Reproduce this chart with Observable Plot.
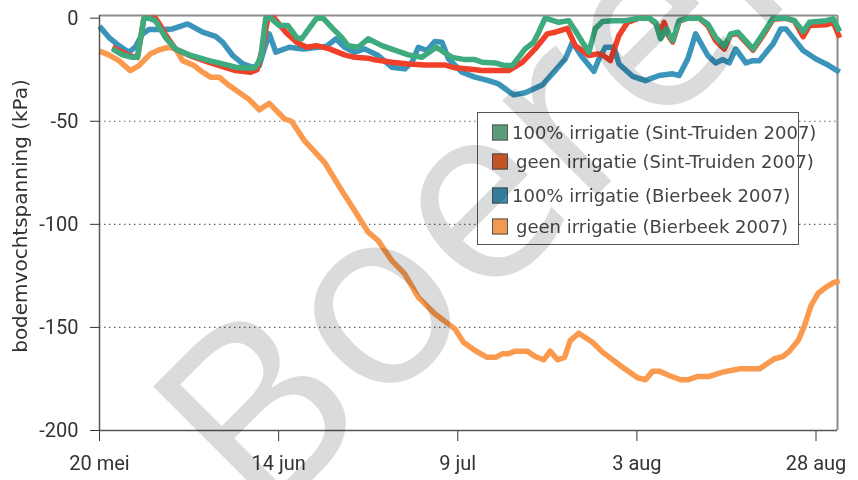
<!DOCTYPE html>
<html>
<head>
<meta charset="utf-8">
<script src="https://cdn.jsdelivr.net/npm/d3@7"></script>
<script src="https://cdn.jsdelivr.net/npm/@observablehq/plot@0.6"></script>
<style>
  body { margin: 0; background: #fff; }
  #wrap { position: relative; width: 858px; height: 480px; overflow: hidden;
          font-family: Roboto, "DejaVu Sans", sans-serif; }
  #chart svg { display: block; }
  .ylab { position: absolute; left: 20px; top: 216px; transform: translate(-50%, -50%) rotate(-90deg);
          white-space: nowrap; font-family: "DejaVu Sans", sans-serif; font-size: 20px; color: #333; }
  .legend { position: absolute; left: 477px; top: 112px; width: 322px; height: 133px;
            border: 1.5px solid #555; box-sizing: border-box; background: #fff; }
  .item { position: absolute; left: 14px; display: flex; align-items: center;
          font-family: "DejaVu Sans", sans-serif; font-size: 18px;
          color: #444; white-space: nowrap; transform: translateY(-50%); }
  .sw { width: 16px; height: 16px; border: 1.5px solid #555; box-sizing: border-box; margin-right: 4px; }
  .item.geen .sw { margin-right: 8px; }
  #wm { position: absolute; left: 0; top: 0; pointer-events: none; mix-blend-mode: multiply; }
</style>
</head>
<body>
<div id="wrap">
  <div id="chart"></div>
  <div class="ylab" id="ylab"></div>
  <div class="legend" id="legend"></div>
  <svg id="wm" width="858" height="480"></svg>
</div>
<script>
// ---------- data (day offsets from 20 May 2007, values in kPa) ----------
const startDate = [2007, 4, 20];
const endDayOffset = 103; // 31 aug

const seriesNames = [
  "geen irrigatie (Bierbeek 2007)",
  "100% irrigatie (Bierbeek 2007)",
  "geen irrigatie (Sint-Truiden 2007)",
  "100% irrigatie (Sint-Truiden 2007)"
];
const legendOrder = [
  "100% irrigatie (Sint-Truiden 2007)",
  "geen irrigatie (Sint-Truiden 2007)",
  "100% irrigatie (Bierbeek 2007)",
  "geen irrigatie (Bierbeek 2007)"
];
const lineColors = ["#f99a4e", "#3b94ba", "#f0402a", "#3dab7e"];
const swatchColors = {
  "100% irrigatie (Sint-Truiden 2007)": "#5c9c7c",
  "geen irrigatie (Sint-Truiden 2007)": "#e5602c",
  "100% irrigatie (Bierbeek 2007)": "#3b8fb3",
  "geen irrigatie (Bierbeek 2007)": "#f29a50"
};

const bbGeenDays = [0,1.3,2.7,4.3,5.5,7.1,8.3,9.7,10.6,11.6,13.2,14.4,15.5,16.7,18.1,20.9,22.3,23.7,25.8,26.8,28.6,31.4,33.8,35.6,37.5,38.9,40.8,42.6,44.5,46.8,49.6,50.8,52.4,54.1,55.3,56.2,57.1,58,59.7,60.8,62,62.9,63.9,64.9,65.7,66.9,68.8,70.2,73,75.1,76.2,77.2,78.1,79.5,81.1,82.1,83.5,85.1,87,88.1,89.3,92.1,94.2,95.4,96.3,97.5,98.4,99.3,100.3,101.4,102.4,103.3];
const bbGeenVals = [-16,-17.8,-20.6,-25.4,-23,-17.3,-15.4,-14.1,-14.9,-20.6,-23,-26.2,-28.6,-28.6,-32.7,-39.5,-44.5,-41.3,-48.8,-50,-59.4,-69.9,-83.6,-93.3,-103.8,-107.9,-117.6,-124,-135.4,-143.4,-150.7,-157.2,-161.2,-164.5,-164.5,-162.8,-162.8,-161.5,-161.5,-164.1,-165.7,-161.5,-165.7,-164.5,-156.4,-152.8,-157.2,-162,-169.3,-174.4,-175.4,-171.2,-171.2,-173.3,-175.4,-175.4,-173.8,-173.8,-171.7,-170.9,-170.1,-170.1,-165.2,-164.1,-161.5,-156.4,-149.1,-139.4,-133.4,-130.5,-128.4,-127.3];

const bb100Days = [0,1.3,2.7,4.1,5,6,6.9,8.8,10.2,12.3,14.4,16.2,17.2,18.6,20,21.4,22.3,23,23.7,24.6,26.5,28.4,31.7,33,34.2,35.6,37,38.9,40.8,42.6,43.6,44.5,45.7,46.8,47.8,48.7,50.6,52.4,54.3,55.7,57.8,59.4,61.8,63.6,65,66,67.4,69,69.7,70.6,71.8,72.5,74.4,76.2,78.1,80,80.9,82.1,83.2,84.9,86,87,87.9,88.8,90.2,91.2,92.1,94,95.1,95.8,98.2,100,101.4,103.3];
const bb100Vals = [-3.9,-9.3,-13.3,-16.5,-14,-7.6,-5.5,-5.5,-5.2,-2.8,-6.8,-8.8,-11.7,-18.1,-22.2,-23.8,-23,-14.9,-7.6,-16.5,-14.1,-14.9,-13.6,-10,-14.1,-16.5,-14.9,-18.1,-23.8,-24.6,-21.4,-14.1,-15.7,-11.3,-11.7,-19.7,-26.2,-28.6,-30.3,-31.9,-37.2,-36.2,-32.4,-25.4,-19.8,-11.7,-19,-25.8,-19.8,-14.1,-14.1,-22.2,-28.2,-30.3,-27.8,-27,-27.8,-19.8,-7.6,-18.1,-21.7,-20.1,-21.7,-14.9,-21.7,-20.6,-20.6,-12.5,-5.2,-5.2,-15.7,-19.8,-22.2,-26.2];

const stGeenDays = [1.8,4.1,5.3,6.2,7.8,8.4,9.2,10.6,12.5,15.3,17.2,19,21.1,22,22.7,23.5,24.4,26,27.5,28.9,30.3,32.1,34.2,35.6,37.5,38.4,40.8,43.1,45.4,48.2,49.6,51.5,53.4,57.1,59,60.8,62.5,63.6,65.3,66.4,68.3,69.5,70.2,71.3,72.5,73.7,75.3,76.7,77.6,78.3,78.8,79.5,80,80.9,82.1,83.7,84.9,86,87.2,88.1,89.1,91.2,92.6,94,95.8,97,98.2,99.1,101.4,102.4,103.3];
const stGeenVals = [-14.1,-18.1,-19,0,0,-3,-8,-14.9,-18,-21.4,-23.5,-25.4,-26.2,-25,-15,0,0,-6.8,-11.7,-14.1,-13.3,-14.9,-17.8,-19,-19.4,-20.2,-21.4,-22.2,-22.7,-22.7,-24.1,-24.6,-25.4,-25.4,-21.4,-14.9,-7.6,-6.8,-4.9,-13.3,-18.1,-17.3,-17.8,-20.6,-8.4,-2,0,0,-2.5,-6,-2,-9,-11.5,-1.5,0,0,-3.6,-11,-15,-8,-7.5,-15.5,-8.4,-0.5,0,-1.5,-9,-3.5,-3.2,-2,-9.5];

const st100Days = [1.8,3.2,4.6,5.3,6.2,6.9,7.8,9.2,10.6,12.5,15.3,17.2,19,20.9,21.8,22.5,23.2,23.9,25.1,26.3,27.5,28.2,30.3,31.2,32.6,33.8,34.7,36.1,37.5,39.4,43.1,45,47,49.2,51,52.4,53.4,55.2,56.6,57.6,58.5,59.4,60.6,61.3,62.2,64.1,65.5,66.4,67.4,68.3,69.2,70.2,71.6,73.4,75.3,76.7,77.6,78.3,79.1,80,80.9,82.1,83.7,84.9,86,87.2,88.1,89.1,91.2,92.6,94,95.8,97,98.2,99.1,101.4,102.4,103.3];
const st100Vals = [-14.9,-17.8,-19,-19,0,0,-1.2,-9.3,-14.9,-17.8,-20.6,-22.2,-23.8,-24.3,-23.8,-19,0,0,-3.6,-3.6,-9.3,-10,0,0,-5.2,-9.3,-13.3,-14.1,-10,-13.3,-17.8,-19,-14.1,-19,-20.1,-20.1,-21.4,-21.7,-23,-23,-19,-14.9,-11.7,-6.8,0,-2,-1.2,-6,-11.7,-16.5,-5,-1.6,-1.2,-1.2,0,0,-2,-10,-5.2,-10.9,-1.2,0,0,-2.8,-9.3,-13.6,-7.6,-6.8,-14.9,-7.6,0,0,-1.2,-6.5,-2,-1.2,-0.3,-6.5];

const xTickDays = [0, 25, 50, 75, 100];
const xTickLabels = ["20 mei", "14 jun", "9 jul", "3 aug", "28 aug"];
const yTicks = [-200, -150, -100, -50, 0];
const yGrid = [-150, -100, -50];
const yTitle = "bodemvochtspanning (kPa)";
const watermarkText = "Boerenbond";

// ---------- build ----------
const dayToDate = d => new Date(Date.UTC(startDate[0], startDate[1], startDate[2]) + d * 864e5);
const seriesDays = [bbGeenDays, bb100Days, stGeenDays, st100Days];
const seriesVals = [bbGeenVals, bb100Vals, stGeenVals, st100Vals];
const rows = [];
seriesNames.forEach((name, k) => {
  seriesDays[k].forEach((d, i) => rows.push({series: name, date: dayToDate(d), value: seriesVals[k][i]}));
});
const x0 = dayToDate(0), x1 = dayToDate(endDayOffset);
const yTop = 1.3;
const labelByTime = new Map(xTickDays.map((d, i) => [+dayToDate(d), xTickLabels[i]]));

const chart = Plot.plot({
  width: 858, height: 480,
  marginLeft: 99, marginRight: 21, marginTop: 15, marginBottom: 50,
  style: {fontFamily: 'Roboto, "DejaVu Sans", sans-serif', fontSize: "20px", color: "#333", background: "transparent"},
  x: {type: "utc", domain: [x0, x1], ticks: xTickDays.map(dayToDate), tickFormat: d => labelByTime.get(+d),
      tickSize: 11, tickPadding: 14, label: null},
  y: {domain: [-200, yTop], ticks: yTicks, tickFormat: d => String(d), tickSize: 9, tickPadding: 12, label: null},
  color: {domain: seriesNames, range: lineColors},
  marks: [
    Plot.ruleY(yGrid, {stroke: "#666", strokeDasharray: "1.5,3.5", strokeWidth: 1.2}),
    Plot.ruleY([yTop], {stroke: "#8c8c8c", strokeWidth: 2}),
    Plot.ruleX([x1], {stroke: "#8c8c8c", strokeWidth: 2}),
    Plot.line(rows, {x: "date", y: "value", z: "series", stroke: "series", strokeWidth: 5.5,
                     strokeLinejoin: "round", strokeLinecap: "butt"}),
    Plot.ruleX([x0], {stroke: "#555", strokeWidth: 1.5}),
    Plot.ruleY([-200], {stroke: "#555", strokeWidth: 1.5})
  ]
});
document.getElementById("chart").appendChild(chart);

document.getElementById("ylab").textContent = yTitle;

// legend
const legendTops = [19, 48, 82, 113];
const lg = document.getElementById("legend");
legendOrder.forEach((name, i) => {
  const it = document.createElement("div");
  it.className = "item" + (name.startsWith("geen") ? " geen" : "");
  it.style.top = legendTops[i] + "px";
  const sw = document.createElement("div");
  sw.className = "sw";
  sw.style.background = swatchColors[name];
  const tx = document.createElement("span");
  tx.textContent = name;
  it.appendChild(sw); it.appendChild(tx);
  lg.appendChild(it);
});

// watermark
const wm = d3.select("#wm");
wm.append("text")
  .attr("transform", "translate(262,530) rotate(-45)")
  .attr("font-family", "'Open Sans', sans-serif")
  .attr("font-weight", 400)
  .attr("font-size", 250)
  .attr("fill", "#dadbdc")
  .text(watermarkText);
</script>
</body>
</html>
